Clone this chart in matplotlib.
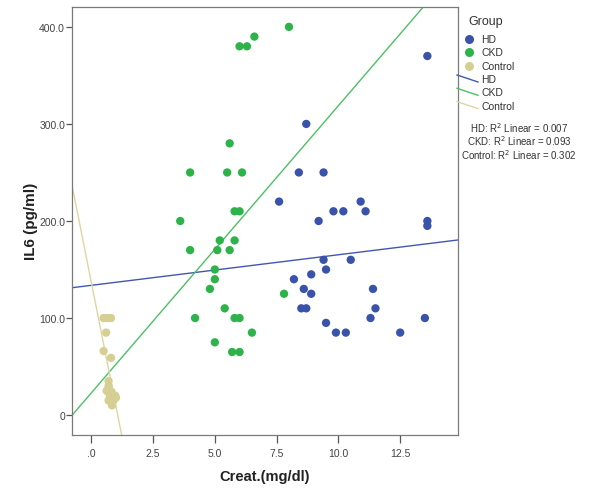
import numpy as np
import matplotlib.pyplot as plt
from matplotlib.lines import Line2D

plt.rcParams['font.family'] = ['Liberation Sans', 'DejaVu Sans']

# Creatinine (mg/dl) and IL6 (pg/ml) per group
hd_creat = [13.6, 8.7, 8.4, 9.4, 7.6, 10.9, 9.8, 10.2, 11.1, 9.2, 13.6, 13.6,
            9.4, 10.5, 9.5, 8.2, 8.9, 8.6, 8.9, 11.4, 8.5, 8.7, 11.5, 11.3,
            13.5, 9.5, 9.9, 10.3, 12.5]
hd_il6 = [370, 300, 250, 250, 220, 220, 210, 210, 210, 200, 200, 195,
          160, 160, 150, 140, 145, 130, 125, 130, 110, 110, 110, 100,
          100, 95, 85, 85, 85]

ckd_creat = [8.0, 6.6, 6.0, 6.3, 5.6, 4.0, 5.5, 6.1, 5.8, 6.0, 3.6, 5.2, 5.8,
             4.0, 5.1, 5.6, 5.0, 5.0, 4.8, 7.8, 5.4, 4.2, 5.8, 6.0, 6.5, 5.0,
             5.7, 6.0]
ckd_il6 = [400, 390, 380, 380, 280, 250, 250, 250, 210, 210, 200, 180, 180,
           170, 170, 170, 150, 140, 130, 125, 110, 100, 100, 100, 85, 75,
           65, 65]

ctrl_creat = [0.5, 0.65, 0.8, 0.6, 0.5, 0.8, 0.7, 0.7, 0.62, 0.82, 0.75, 0.97,
              0.7, 0.9, 1.0, 0.84]
ctrl_il6 = [100, 100, 100, 85, 66, 59, 35, 30, 25, 24, 20, 20, 15, 15, 18, 10]

# Linear fit per group: intercept, slope, R^2
groups = ['HD', 'CKD', 'Control']
intercepts = [133.7, 22.8, 137.0]
slopes = [3.15, 29.6, -128.0]
r2 = [0.007, 0.093, 0.302]

dot_colors = ['#3a53aa', '#2db34a', '#d6cf94']
line_colors = ['#4257ad', '#4cc065', '#dcd7a0']

xticks = [0, 2.5, 5.0, 7.5, 10.0, 12.5]
xticklabels = ['.0', '2.5', '5.0', '7.5', '10.0', '12.5']
yticks = [0, 100, 200, 300, 400]
yticklabels = ['0', '100.0', '200.0', '300.0', '400.0']

W, H = 594, 489
fig = plt.figure(figsize=(W / 100, H / 100), dpi=100)
ax = fig.add_axes([72 / W, 1 - 435.5 / H, 385.5 / W, 428 / H])

xs = [hd_creat, ckd_creat, ctrl_creat]
ys = [hd_il6, ckd_il6, ctrl_il6]
for x, y, c in zip(xs, ys, dot_colors):
    ax.scatter(x, y, s=36, color=c, edgecolors='none', zorder=3)

for b, m, c in zip(intercepts, slopes, line_colors):
    ax.axline((0, b), slope=m, color=c, lw=1.0, zorder=2)

ax.set_xlim(-0.78, 14.82)
ax.set_ylim(-20, 421)
ax.set_xticks(xticks)
ax.set_xticklabels(xticklabels)
ax.set_yticks(yticks)
ax.set_yticklabels(yticklabels)

for s in ax.spines.values():
    s.set_color('#7a7a7a')
    s.set_linewidth(0.9)
ax.tick_params(axis='x', length=6, width=0.9, color='#555555',
               labelsize=7.5, labelcolor='#444444', pad=4)
ax.tick_params(axis='y', length=4, width=0.9, color='#555555',
               labelsize=7.5, labelcolor='#444444', pad=1)

ax.set_xlabel('Creat.(mg/dl)', fontsize=10.5, fontweight='bold',
              color='#222222', labelpad=8)
ax.set_ylabel('IL6 (pg/ml)', fontsize=11, fontweight='bold',
              color='#222222')
ax.yaxis.set_label_coords(-0.087, 0.5)


def fx(px):
    return px / W


def fy(py):
    return 1 - py / H


# Legend panel
fig.text(fx(468), fy(22), 'Group', fontsize=9, color='#333333',
         va='center', ha='left')
for i, (g, c) in enumerate(zip(groups, dot_colors)):
    yy = 40 + i * 13.3
    fig.add_artist(Line2D([fx(469)], [fy(yy)], marker='o', markersize=6.5,
                          color=c, markeredgecolor='none', linestyle='none'))
    fig.text(fx(481), fy(yy), g, fontsize=7.5, color='#333333', va='center')
for i, (g, c) in enumerate(zip(groups, line_colors)):
    yy = 80 + i * 13.3
    fig.add_artist(Line2D([fx(457), fx(478)], [fy(yy - 4), fy(yy + 3)],
                          color=c, lw=1.0))
    fig.text(fx(481), fy(yy), g, fontsize=7.5, color='#333333', va='center')
for i, (g, v) in enumerate(zip(groups, r2)):
    yy = 128 + i * 13.5
    fig.text(fx(519), fy(yy), f'{g}: R$^2$ Linear = {v:.3f}', fontsize=7,
             color='#333333', ha='center', va='center')

fig.savefig('out.png', dpi=100)
